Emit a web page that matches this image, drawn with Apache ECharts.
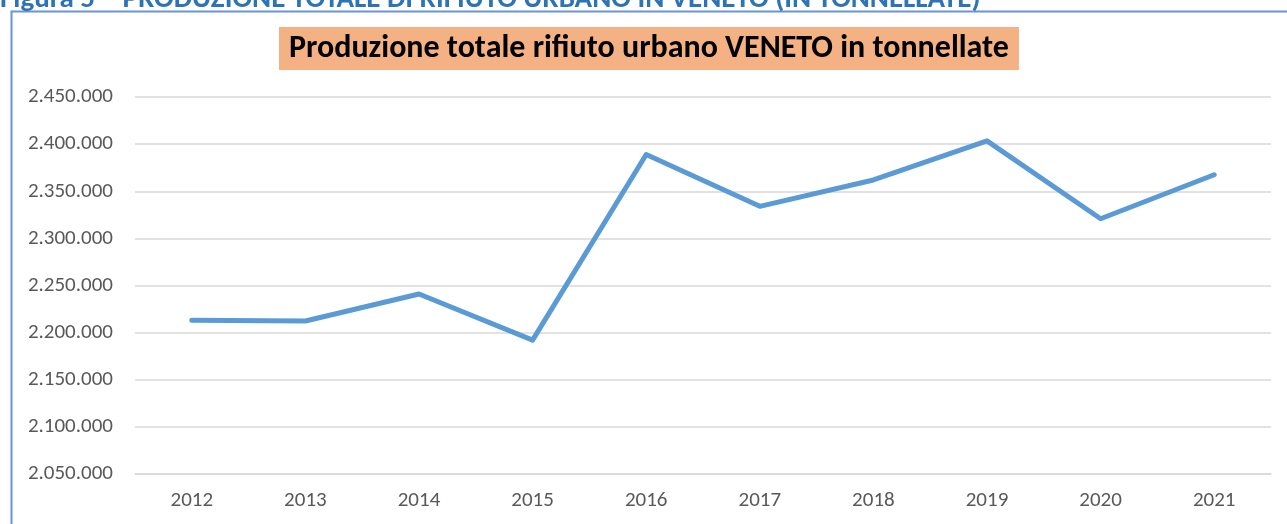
<!DOCTYPE html>
<html>
<head>
<meta charset="utf-8">
<script src="https://cdn.jsdelivr.net/npm/echarts@6/dist/echarts.min.js"></script>
<style>
  html, body { margin: 0; padding: 0; background: #fff; }
  #chart { width: 1287px; height: 524px; }
</style>
</head>
<body>
<div id="chart"></div>
<script>
const years = ['2012', '2013', '2014', '2015', '2016', '2017', '2018', '2019', '2020', '2021']
const tonnes = [2213000, 2212300, 2241000, 2192000, 2389000, 2334000, 2362000, 2403500, 2320800, 2367500]
const yTicks = [2050000, 2450000, 50000] // min, max, step

const headerText = 'Figura 5 – PRODUZIONE TOTALE DI RIFIUTO URBANO IN VENETO (IN TONNELLATE)'
const chartTitle = 'Produzione totale rifiuto urbano VENETO in tonnellate'

const fmt = (v) => String(v).replace(/\B(?=(\d{3})+(?!\d))/g, '.')
const font = 'Carlito, Lato, "Liberation Sans", sans-serif'

const chart = echarts.init(document.getElementById('chart'), null, { renderer: 'canvas' })

chart.setOption({
  animation: false,
  backgroundColor: '#fff',
  title: {
    text: chartTitle,
    left: 279,
    top: 27,
    padding: [5, 10, 5, 10],
    backgroundColor: '#f4b183',
    textStyle: {
      fontFamily: font,
      fontWeight: 'bold',
      fontSize: 32,
      color: '#000',
      lineHeight: 33
    }
  },
  graphic: [
    {
      type: 'rect',
      shape: { x: 11.5, y: 11.5, width: 1300, height: 540 },
      style: { fill: 'none', stroke: '#6b93d6', lineWidth: 2 },
      z: 0
    },
    {
      type: 'text',
      x: 0,
      y: 14,
      style: {
        text: headerText,
        fontFamily: font,
        fontWeight: 'bold',
        fontSize: 29,
        fill: '#2e74b5',
        verticalAlign: 'bottom'
      }
    }
  ],
  grid: {
    left: 135,
    right: 16,
    top: 97,
    bottom: 50
  },
  xAxis: {
    type: 'category',
    data: years,
    boundaryGap: true,
    axisLine: { lineStyle: { color: '#d9d9d9', width: 1.5 } },
    axisTick: { show: false },
    axisLabel: {
      margin: 16,
      fontFamily: font,
      fontSize: 21,
      color: '#595959'
    }
  },
  yAxis: {
    type: 'value',
    min: yTicks[0],
    max: yTicks[1],
    interval: yTicks[2],
    axisLine: { show: false },
    axisTick: { show: false },
    splitLine: { lineStyle: { color: '#d9d9d9', width: 1.5 } },
    axisLabel: {
      margin: 22,
      fontFamily: font,
      fontSize: 21,
      color: '#595959',
      formatter: fmt
    }
  },
  series: [
    {
      type: 'line',
      data: tonnes,
      showSymbol: false,
      symbol: 'none',
      lineStyle: { color: '#5b9bd5', width: 5, cap: 'round', join: 'round' }
    }
  ]
})
</script>
</body>
</html>
